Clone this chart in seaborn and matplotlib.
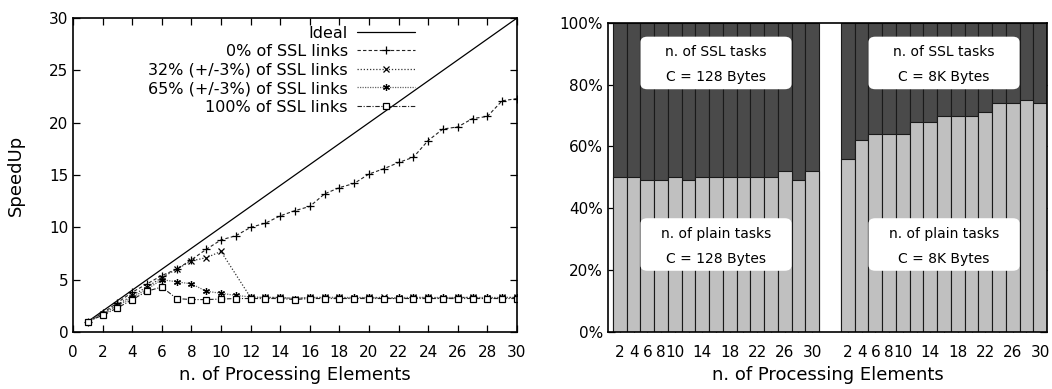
import numpy as np
import pandas as pd
import matplotlib
matplotlib.use("Agg")
import matplotlib.pyplot as plt
import seaborn as sns
from matplotlib.patches import FancyBboxPatch

# speedup data (left panel); no sample at PE=11 for the 32% run
pe = list(range(1, 31))
ideal = list(range(1, 31))
ssl_0 = [1.0, 1.8, 2.8, 3.8, 4.6, 5.4, 6.0, 6.9, 7.9, 8.8, 9.2, 10.0, 10.4, 11.1, 11.6,
         12.0, 13.2, 13.8, 14.2, 15.1, 15.6, 16.2, 16.7, 18.3, 19.4, 19.6, 20.4, 20.6, 22.1, 22.3]
ssl_32 = [1.0, 1.7, 2.6, 3.5, 4.3, 5.2, 6.0, 6.8, 7.1, 7.7, None, 3.3, 3.3, 3.3, 3.2,
          3.3, 3.3, 3.3, 3.2, 3.3, 3.3, 3.2, 3.3, 3.3, 3.2, 3.3, 3.3, 3.2, 3.3, 3.3]
ssl_65 = [1.0, 1.7, 2.5, 3.3, 4.1, 5.0, 4.8, 4.6, 3.9, 3.7, 3.5, 3.35, 3.3, 3.3, 3.2,
          3.3, 3.3, 3.3, 3.3, 3.3, 3.2, 3.3, 3.3, 3.3, 3.3, 3.3, 3.3, 3.3, 3.3, 3.3]
ssl_100 = [1.0, 1.6, 2.3, 3.1, 3.9, 4.3, 3.2, 3.1, 3.1, 3.15, 3.2, 3.2, 3.2, 3.2, 3.1,
           3.2, 3.2, 3.2, 3.2, 3.2, 3.2, 3.2, 3.2, 3.2, 3.2, 3.2, 3.2, 3.2, 3.2, 3.2]
labels = ["Ideal", "0% of SSL links", "32% (+/-3%) of SSL links",
          "65% (+/-3%) of SSL links", "100% of SSL links"]

# task mix (right panel), PE = 2,4,...,30
pe_bars = list(range(2, 31, 2))
plain_128 = [50, 50, 49, 49, 50, 49, 50, 50, 50, 50, 50, 50, 52, 49, 52]
plain_8k = [56, 62, 64, 64, 64, 68, 68, 70, 70, 70, 71, 74, 74, 75, 74]
bar_ticklabels = ["2", "4", "6", "8", "10", "", "14", "", "18", "", "22", "", "26", "", "30"]

sns.set_style("ticks")
plt.rcParams["font.family"] = ["DejaVu Sans"]
plt.rcParams["font.size"] = 11
for k in ["text.color", "axes.labelcolor", "xtick.color", "ytick.color", "axes.edgecolor"]:
    plt.rcParams[k] = "black"

fig = plt.figure(figsize=(10.52, 3.89), dpi=100)
ax1 = fig.add_axes([0.0694, 0.1465, 0.422, 0.807])
ax2 = fig.add_axes([0.578, 0.1465, 0.4173, 0.795])

series = [ideal, ssl_0, ssl_32, ssl_65, ssl_100]
styles = [
    dict(ls="-", marker=None, color="black", lw=0.9),
    dict(ls=(0, (3, 2)), marker="+", color="#222222", lw=0.8, ms=6, mew=0.9),
    dict(ls=(0, (1, 1.5)), marker="x", color="#333333", lw=0.9, ms=5, mew=0.9),
    dict(ls=(0, (1, 1)), marker=(6, 2, 0), color="#666666", lw=0.9, ms=5, mew=0.9),
    dict(ls=(0, (4, 1.5, 1, 1.5)), marker="s", color="#222222", lw=0.8, ms=5, mfc="white", mew=0.9),
]
for lab, vals, st in zip(labels, series, styles):
    d = pd.DataFrame({"pe": pe, "speedup": vals}).dropna()
    sns.lineplot(data=d, x="pe", y="speedup", ax=ax1, label=lab, mec="black", **st)

ax1.set_xlim(0, 30)
ax1.set_ylim(0, 30)
ax1.set_xticks(range(0, 31, 2))
ax1.set_yticks(range(0, 31, 5))
ax1.set_xlabel("n. of Processing Elements", fontsize=13, labelpad=5)
ax1.set_ylabel("SpeedUp", fontsize=13, labelpad=17)
ax1.tick_params(direction="in", top=True, right=True, length=5, width=0.9, labelsize=11)
ax1.tick_params(axis="x", pad=9)
for s in ax1.spines.values():
    s.set_linewidth(1.2)
ax1.legend(loc="upper right", bbox_to_anchor=(0.795, 1.012), frameon=False, markerfirst=False,
           handlelength=3.6, labelspacing=0.22, handletextpad=0.6, fontsize=11.5, borderpad=0.2)

# right panel: stacked percentages, two groups side by side
gap = 1.6
x_left = np.arange(len(pe_bars))
x_right = x_left + len(pe_bars) + gap
bars = pd.DataFrame({
    "x": np.concatenate([x_left, x_right]),
    "plain": plain_128 + plain_8k,
})
ax2.bar(bars["x"], 100, width=1.0, color="#4a4a4a", edgecolor="#1a1a1a", linewidth=0.8)
ax2.bar(bars["x"], bars["plain"], width=1.0, color="#c0c0c0", edgecolor="#1a1a1a", linewidth=0.8)

ax2.set_xlim(-0.86, x_right[-1] + 0.5)
ax2.set_ylim(0, 100)
ax2.set_yticks(range(0, 101, 20))
ax2.set_yticklabels([f"{v}%" for v in range(0, 101, 20)])
ax2.set_xticks(np.concatenate([x_left, x_right]))
ax2.set_xticklabels(bar_ticklabels + bar_ticklabels)
ax2.set_xlabel("n. of Processing Elements", fontsize=13, labelpad=5)
ax2.tick_params(direction="in", right=True, length=5, width=0.9, labelsize=11)
ax2.tick_params(axis="x", pad=9)
for s in ax2.spines.values():
    s.set_linewidth(1.2)

box_text = [("n. of SSL tasks\nC = 128 Bytes", x_left.mean(), 87),
            ("n. of plain tasks\nC = 128 Bytes", x_left.mean(), 28.3),
            ("n. of SSL tasks\nC = 8K Bytes", x_right.mean(), 87),
            ("n. of plain tasks\nC = 8K Bytes", x_right.mean(), 28.3)]
for txt, cx, cy in box_text:
    ax2.add_patch(FancyBboxPatch((cx - 5.5, cy - 8.5), 11.0, 17.0,
                                 boxstyle="round,pad=0,rounding_size=0.5",
                                 mutation_aspect=3.5, facecolor="white",
                                 edgecolor="none", zorder=3))
    ax2.text(cx, cy - 0.6, txt, ha="center", va="center", fontsize=10, linespacing=2.0, zorder=4)

fig.savefig("out.png", dpi=100)
